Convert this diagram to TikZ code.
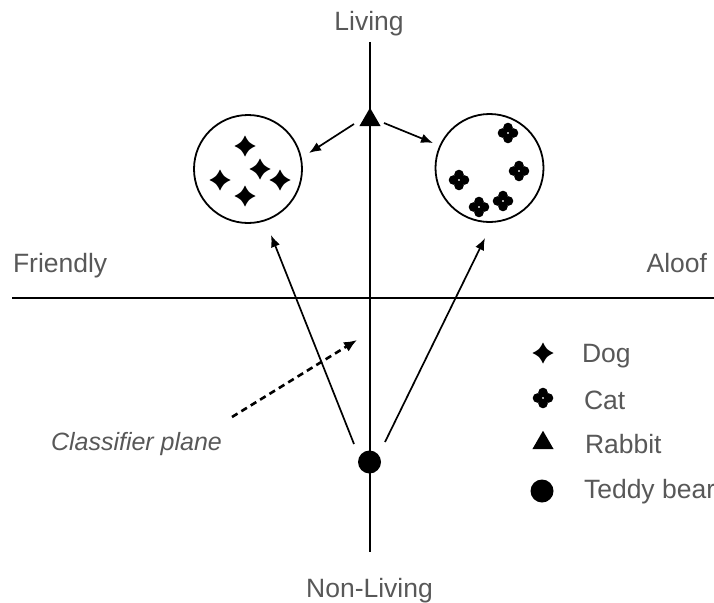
\documentclass[tikz,border=0pt]{standalone}
\usepackage{fontspec}
\setmainfont{Liberation Sans}
\usetikzlibrary{arrows.meta,shapes.geometric,calc}
\definecolor{labelgray}{RGB}{88,88,88}
\begin{document}
\begin{tikzpicture}[x=1pt,y=-1pt,
  every node/.style={inner sep=0pt,outer sep=0pt},
  lbl/.style={text=labelgray,font=\fontsize{26.5}{30}\selectfont},
  group/.style={circle,draw,line width=1.8pt,minimum size=108pt},
  tri/.style={regular polygon,regular polygon sides=3,fill,minimum size=24.5pt},
  dot/.style={circle,fill,minimum size=23pt},
  axis/.style={line width=2pt},
  arr/.style={line width=1.7pt,-{Latex[length=12pt,width=9.5pt]}},
  dasharr/.style={line width=2.6pt,dash pattern=on 6.5pt off 4.5pt,-{Latex[length=13pt,width=11pt]}},
  dogstar/.pic={\fill (10.5,0) .. controls (3.6,3.6) .. (0,10.5) .. controls (-3.6,3.6) .. (-10.5,0)
     .. controls (-3.6,-3.6) .. (0,-10.5) .. controls (3.6,-3.6) .. cycle;},
  catclover/.pic={\fill (5.5,0) circle[radius=4.8] (-5.5,0) circle[radius=4.8]
     (0,5.5) circle[radius=4.8] (0,-5.5) circle[radius=4.8];}
]
\useasboundingbox (0,0) rectangle (714,602);
\clip (0,0) rectangle (714,602);

% axes
\coordinate (ytop) at (370,42);
\coordinate (ybot) at (370,552);
\coordinate (xleft) at (12,298);
\coordinate (xright) at (714,298);
\draw[axis] (ytop) -- (ybot);
\draw[axis] (xleft) -- (xright);

\node[lbl,anchor=base] (living) at (369,31) {Living};
\node[lbl,anchor=base] (nonliving) at (369.5,597) {Non-Living};
\node[lbl,anchor=base west] (friendly) at (13,272) {Friendly};
\node[lbl,anchor=base east] (aloof) at (707,272) {Aloof};

% the two groups
\node[group] (dogs) at (248,169) {};
\node[group] (cats) at (489.5,168) {};
\pic at (245,146) {dogstar};
\pic at (260,169) {dogstar};
\pic at (220,180) {dogstar};
\pic at (280,180) {dogstar};
\pic at (245,196) {dogstar};
\pic at (508,133) {catclover};
\pic at (519,171) {catclover};
\pic at (459,180) {catclover};
\pic at (479,207) {catclover};
\pic at (503,201) {catclover};

% rabbit and teddy bear
\node[tri] (rabbit) at (370,120) {};
\node[dot] (teddy) at (369.5,462) {};

\coordinate (dogsend) at (309,153);
\coordinate (catsend) at (433,143);
\draw[arr] ([shift={(-16,4)}]rabbit.center) -- (dogsend);
\draw[arr] ([shift={(14,3)}]rabbit.center) -- (catsend);

\coordinate (dogsend2) at (271,235);
\coordinate (catsend2) at (485,238);
\draw[arr] ([shift={(-15.5,-18)}]teddy.center) -- (dogsend2);
\draw[arr] ([shift={(15.5,-20)}]teddy.center) -- (catsend2);

% classifier plane label
\node[lbl,anchor=base,font=\fontsize{25}{28}\selectfont\itshape] (plane) at (136.5,450) {Classifier plane};
\coordinate (planetip) at (357,340);
\draw[dasharr] (232,417) -- (planetip);

% legend
\pic at (543,353) {dogstar};
\pic at (543,398) {catclover};
\node[tri] (legrabbit) at (543,443) {};
\node[dot] (legteddy) at (542,491) {};
\node[lbl,anchor=base west] (legdog) at (582,362) {Dog};
\node[lbl,anchor=base west] (legcat) at (584,409) {Cat};
\node[lbl,anchor=base west] (legrab) at (585,453) {Rabbit};
\node[lbl,anchor=base west] (legted) at (584,498) {Teddy bear};
\end{tikzpicture}
\end{document}
